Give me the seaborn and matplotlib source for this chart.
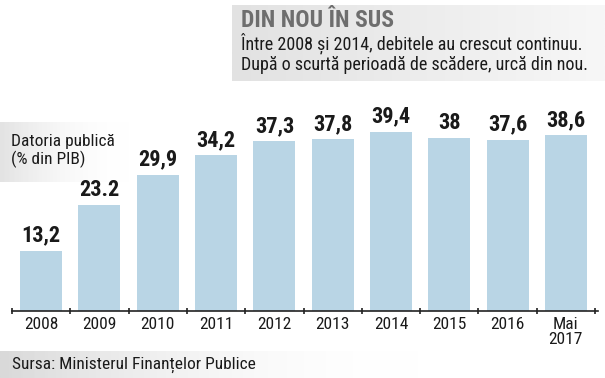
import numpy as np
import pandas as pd
import matplotlib
import matplotlib.pyplot as plt
import seaborn as sns

# ── Data ──────────────────────────────────────────────────────────────────────
years = ['2008', '2009', '2010', '2011', '2012', '2013', '2014', '2015', '2016', 'Mai\n2017']
debt = [13.2, 23.2, 29.9, 34.2, 37.3, 37.8, 39.4, 38.0, 37.6, 38.6]
value_labels = ['13,2', '23.2', '29,9', '34,2', '37,3', '37,8', '39,4', '38', '37,6', '38,6']

title = 'DIN NOU ÎN SUS'
subtitle = 'Între 2008 și 2014, debitele au crescut continuu.\nDupă o scurtă perioadă de scădere, urcă din nou.'
ylabel = 'Datoria publică\n(% din PIB)'
source = 'Sursa: Ministerul Finanțelor Publice'

# ── Style ─────────────────────────────────────────────────────────────────────
sns.set_style('white')
plt.rcParams['font.family'] = ['Roboto Condensed', 'DejaVu Sans']
BAR_COLOR = '#b9d5e5'

fig = plt.figure(figsize=(6.05, 3.78), dpi=100)
W, H = 605, 378


def gradient_box(x0, y0, w, h, c_left, c_right, alpha_right=1.0):
    """Gray gradient panel, given in pixel coords measured from the top-left."""
    gax = fig.add_axes([x0 / W, 1 - (y0 + h) / H, w / W, h / H], zorder=0)
    grad = np.linspace(0, 1, 256)[None, :, None]
    cl = np.array(matplotlib.colors.to_rgba(c_left))
    cr = np.array(matplotlib.colors.to_rgba(c_right))
    cr[3] = alpha_right
    img = cl * (1 - grad) + cr * grad
    gax.imshow(img, aspect='auto', extent=[0, 1, 0, 1])
    gax.set_axis_off()
    return gax


# background panels
gradient_box(232, 5, 373, 76, '#e2e2e2', '#f7f7f7')
gradient_box(0, 122, 130, 60, '#e3e3e3', '#ffffff', alpha_right=0.0)
gradient_box(0, 351, 420, 27, '#d9d9d9', '#ffffff', alpha_right=0.0)

# ── Bars ──────────────────────────────────────────────────────────────────────
ax = fig.add_axes([12 / W, 67 / H, 586 / W, 227.5 / H], zorder=1)
ax.patch.set_alpha(0)
df = pd.DataFrame({'An': years, 'Datorie': debt})
sns.barplot(data=df, x='An', y='Datorie', color=BAR_COLOR, width=0.72,
            saturation=1, linewidth=0, ax=ax)

for i, (v, lab) in enumerate(zip(debt, value_labels)):
    ax.annotate(lab, (i, v), xytext=(0, 3), textcoords='offset points',
                ha='center', va='bottom', fontsize=16, fontweight='bold',
                color='#1a1a1a')

ax.set_xlim(-0.5, 9.55)
ax.set_ylim(0, 50)
ax.set_xlabel('')
ax.set_ylabel('')
ax.set_yticks([])
ax.set_xticks(range(len(years)))
ax.set_xticklabels(years, fontsize=12.5, color='#1a1a1a', linespacing=1.05)
ax.set_xticks(np.arange(-0.5, 10, 1.0), minor=True)
ax.tick_params(axis='x', which='major', length=0, pad=4)
ax.tick_params(axis='x', which='minor', length=5, width=1.2,
               direction='inout', color='#222222', bottom=True)
for s in ['top', 'right', 'left']:
    ax.spines[s].set_visible(False)
ax.spines['bottom'].set_color('#222222')
ax.spines['bottom'].set_linewidth(1.2)

# ── Texts ─────────────────────────────────────────────────────────────────────
fig.text(241 / W, 1 - 9 / H, title, ha='left', va='top', fontsize=17,
         fontweight='bold', color='#6e6e6e', zorder=3)
fig.text(241 / W, 1 - 32 / H, subtitle, ha='left', va='top', fontsize=13,
         color='#1a1a1a', linespacing=1.2, zorder=3)
fig.text(11 / W, 1 - 134 / H, ylabel, ha='left', va='top', fontsize=12.5,
         color='#1a1a1a', linespacing=1.1, zorder=3)
fig.text(12 / W, 1 - 365 / H, source, ha='left', va='center', fontsize=12.5,
         color='#1a1a1a', zorder=3)

plt.savefig('out.png', dpi=100)
plt.close()
